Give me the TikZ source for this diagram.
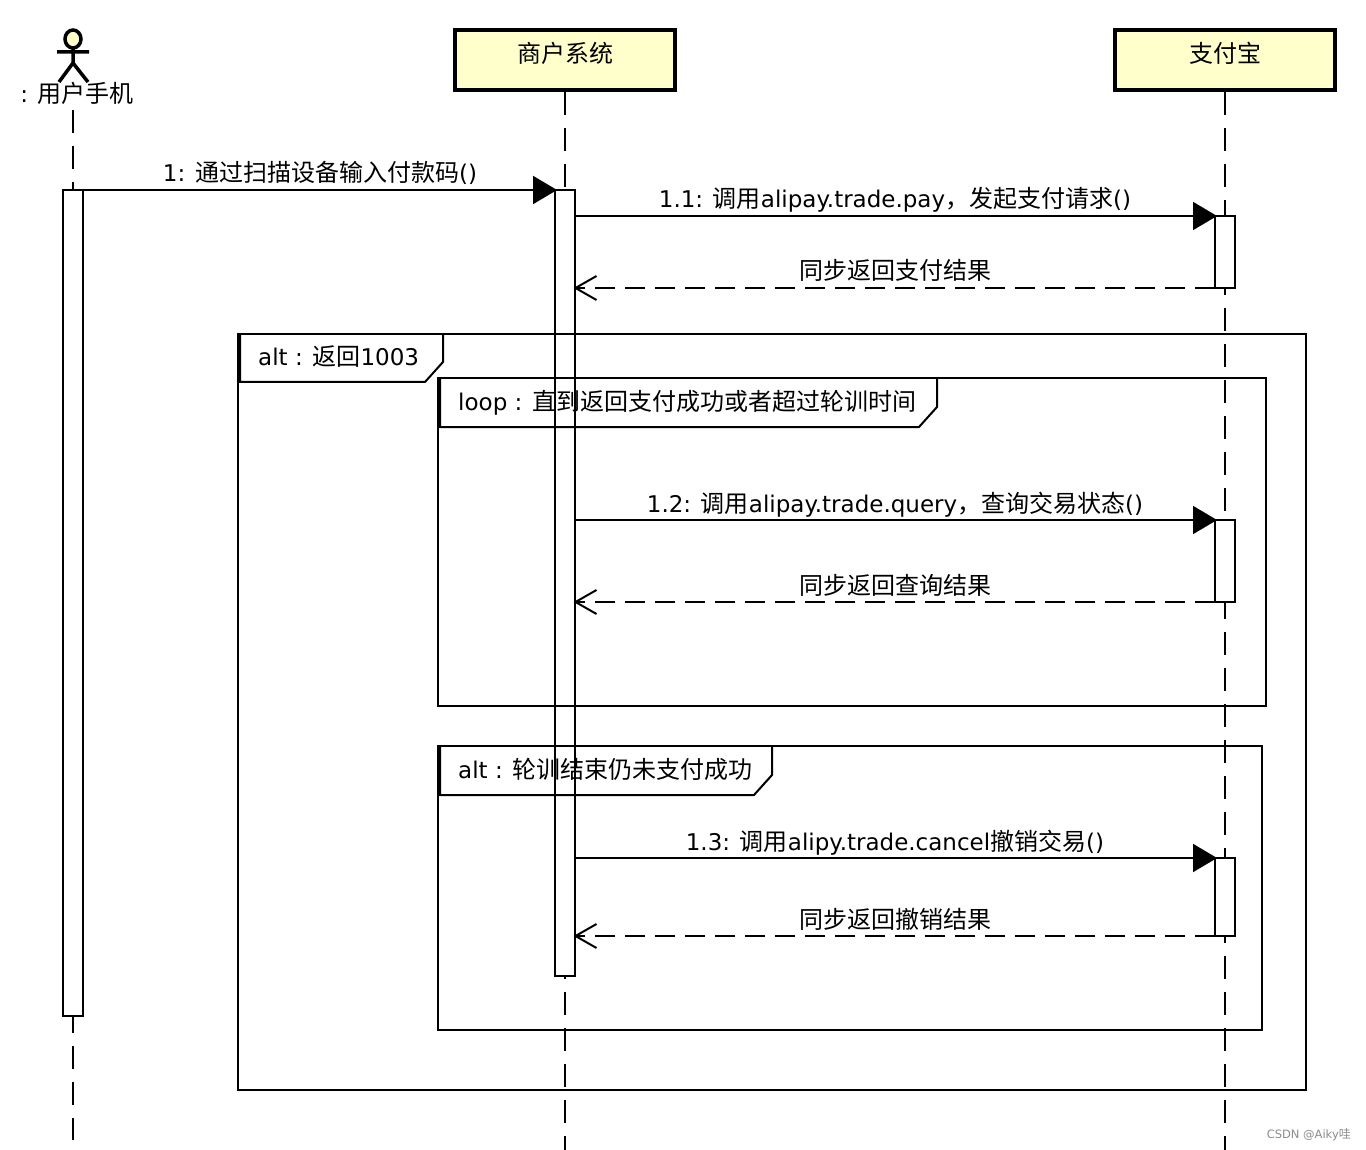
\documentclass[tikz,border=0pt]{standalone}
\usepackage{fontspec}
\setmainfont{DejaVu Sans}
\newfontfamily\cjkf[Scale=1.0435]{Noto Sans CJK SC}
\newcommand{\zh}[1]{{\cjkf #1}}
\usetikzlibrary{arrows.meta}
\definecolor{objfill}{HTML}{FFFFCC}
\tikzset{
  objbox/.style={draw=black,line width=4pt,fill=objfill,minimum width=220pt,minimum height=60pt,inner sep=0pt},
  actbox/.style={draw=black,line width=2pt,fill=white,minimum width=20pt,inner sep=0pt,outer sep=0pt},
  lifeline/.style={line width=2pt,dash pattern=on 23pt off 13pt},
  framebox/.style={line width=2pt},
  tabedge/.style={line width=2pt,line join=miter},
  tablabel/.style={anchor=base west,inner sep=0pt,font=\fontsize{23}{28}\selectfont},
  msglabel/.style={anchor=base,inner sep=0pt,font=\fontsize{23}{28}\selectfont},
  syncmsg/.style={line width=2pt,shorten >=-2pt,-{Triangle[length=24pt,width=28pt]}},
  retmsg/.style={line width=2pt,shorten >=-1.5pt,dash pattern=on 20pt off 10pt,-{Straight Barb[length=21pt,width=24pt,line width=2pt]}},
  actorline/.style={line width=3.5pt}
}
\begin{document}
\begin{tikzpicture}[x=1pt,y=-1pt]
\useasboundingbox (0,0) rectangle (1366,1150);
\fill[white] (0,0) rectangle (1366,1150);
% actor
\draw[actorline,fill=objfill] (73,39) ellipse [x radius=8,y radius=9];
\coordinate (armL) at (57,52);
\coordinate (armR) at (89,52);
\coordinate (hip) at (73,63);
\coordinate (legL) at (59,82);
\coordinate (legR) at (88,82);
\coordinate (neck) at (73,48);
\draw[actorline] (neck) -- (hip) (armL) -- (armR) (legL) -- (hip) -- (legR);
\node[msglabel] (actorlabel) at (77,103) {: \zh{用户手机}};
\coordinate (actortop) at (73,110);
\coordinate (actorend) at (73,1140);
% objects
\node[objbox] (merchant) at (565,60) {};
\node[msglabel] (merchanttxt) at (565,63) {\zh{商户系统}};
\node[objbox] (alipay) at (1225,60) {};
\node[msglabel] (alipaytxt) at (1225,63) {\zh{支付宝}};
\coordinate (merchantend) at (565,1150);
\coordinate (alipayend) at (1225,1150);
% lifelines
\draw[lifeline] (actortop) -- (actorend);
\draw[lifeline] (merchant.south) -- (merchantend);
\draw[lifeline] (alipay.south) -- (alipayend);
% activations
\node[actbox,minimum height=826pt] (a1) at (73,603) {};
\node[actbox,minimum height=786pt] (a2) at (565,583) {};
\node[actbox,minimum height=72pt] (c1) at (1225,252) {};
\node[actbox,minimum height=82pt] (c2) at (1225,561) {};
\node[actbox,minimum height=78pt] (c3) at (1225,897) {};
% frames
\draw[framebox] (238,334) rectangle (1306,1090);
\draw[tabedge] (240,334) -- (240,382) -- (425,382) -- (443,362) -- (443,334);
\node[tablabel] (t1) at (258,366) {alt : \zh{返回}1003};
\draw[framebox] (438,378) rectangle (1266,706);
\draw[tabedge] (440,378) -- (440,427) -- (919,427) -- (937,407) -- (937,378);
\node[tablabel] (t2) at (458,410) {loop : \zh{直到返回支付成功或者超过轮训时间}};
\draw[framebox] (438,746) rectangle (1262,1030);
\draw[tabedge] (440,746) -- (440,795) -- (754,795) -- (772,775) -- (772,746);
\node[tablabel] (t3) at (458,778) {alt : \zh{轮训结束仍未支付成功}};
% messages
\draw[syncmsg] (a1.north east) -- (a2.north west);
\node[msglabel] (m1) at (320,182) {1: \zh{通过扫描设备输入付款码}()};
\draw[syncmsg] (a2.east |- c1.north) -- (c1.north west);
\node[msglabel] (m2) at (895,208) {1.1: \zh{调用}alipay.trade.pay\zh{，发起支付请求}()};
\draw[retmsg] (c1.south west) -- (a2.east |- c1.south);
\node[msglabel] (m3) at (895,280) {\zh{同步返回支付结果}};
\draw[syncmsg] (a2.east |- c2.north) -- (c2.north west);
\node[msglabel] (m4) at (895,512) {1.2: \zh{调用}alipay.trade.query\zh{，查询交易状态}()};
\draw[retmsg] (c2.south west) -- (a2.east |- c2.south);
\node[msglabel] (m5) at (895,594) {\zh{同步返回查询结果}};
\draw[syncmsg] (a2.east |- c3.north) -- (c3.north west);
\node[msglabel] (m6) at (895,850) {1.3: \zh{调用}alipy.trade.cancel\zh{撤销交易}()};
\draw[retmsg] (c3.south west) -- (a2.east |- c3.south);
\node[msglabel] (m7) at (895,928) {\zh{同步返回撤销结果}};
% watermark
\node[anchor=base east,inner sep=0pt,text=black!45,font=\fontsize{11.5}{14}\selectfont] (wm) at (1351,1138) {CSDN @Aiky\zh{哇}};
\end{tikzpicture}
\end{document}
